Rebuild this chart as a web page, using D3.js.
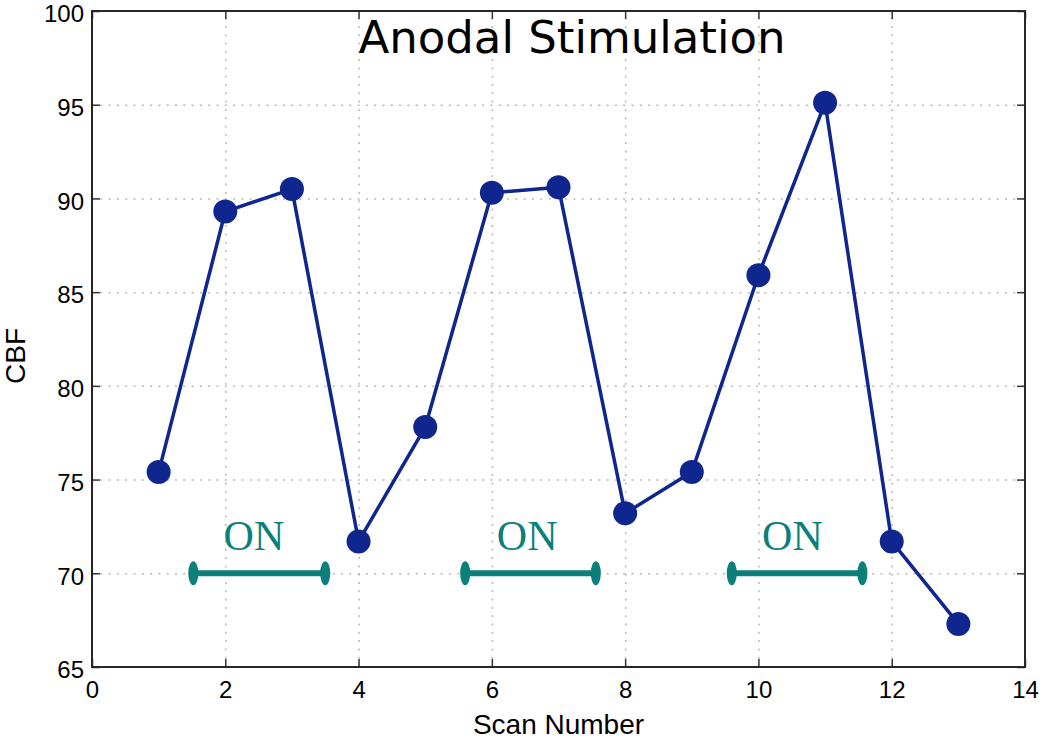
<!DOCTYPE html>
<html>
<head>
  <meta charset="utf-8">
  <script src="https://d3js.org/d3.v7.min.js"></script>
  <style>
    body { margin: 0; background: #fff; }
    .grid line { stroke: #b8b8b8; stroke-width: 1.5; stroke-dasharray: 2, 6.3; }
    .grid .domain { stroke: none; }
    .axis text { font-family: "Liberation Sans", Arial, sans-serif; font-size: 24px; fill: #000; }
    .axis line { stroke: #333; stroke-width: 1.5; }
    .axis .domain { stroke: none; }
  </style>
</head>
<body>
  <svg id="chart" width="1050" height="741"></svg>

  <script>
    // data
    const scans = [1, 2, 3, 4, 5, 6, 7, 8, 9, 10, 11, 12, 13];
    const cbf = [75.4, 89.3, 90.5, 71.7, 77.8, 90.3, 90.6, 73.2, 75.4, 85.9, 95.1, 71.7, 67.3];

    // stimulation periods
    const onStart = [1.52, 5.6, 9.6];
    const onEnd = [3.5, 7.56, 11.56];
    const onLevel = 70;
    const onLabelX = [2.43, 6.53, 10.51];
    const onLabelY = 71.25;

    const xTicks = [0, 2, 4, 6, 8, 10, 12, 14];
    const yTicks = [65, 70, 75, 80, 85, 90, 95, 100];

    const svg = d3.select("svg#chart");
    const margin = { top: 11, right: 25, bottom: 74, left: 92 };
    const width = +svg.attr("width");
    const height = +svg.attr("height");
    const chartWidth = width - margin.left - margin.right;
    const chartHeight = height - margin.top - margin.bottom;

    const xScale = d3.scaleLinear().domain([0, 14]).range([0, chartWidth]);
    const yScale = d3.scaleLinear().domain([65, 100]).range([chartHeight, 0]);

    const chart = svg.append("g")
      .attr("transform", `translate(${margin.left},${margin.top})`);

    // dotted grid
    chart.append("g").attr("class", "grid")
      .attr("transform", `translate(0,${chartHeight})`)
      .call(d3.axisBottom(xScale).tickValues(xTicks.slice(1, -1)).tickSize(-chartHeight).tickFormat(""));
    chart.append("g").attr("class", "grid")
      .call(d3.axisLeft(yScale).tickValues(yTicks.slice(1, -1)).tickSize(-chartWidth).tickFormat(""));

    // axes with inward ticks (matlab style box)
    chart.append("g").attr("class", "axis")
      .attr("transform", `translate(0,${chartHeight})`)
      .call(d3.axisBottom(xScale).tickValues(xTicks).tickSizeInner(-8).tickSizeOuter(0).tickPadding(14));
    chart.append("g").attr("class", "axis")
      .call(d3.axisTop(xScale).tickValues(xTicks).tickSizeInner(-8).tickSizeOuter(0).tickFormat(""));
    chart.append("g").attr("class", "axis")
      .call(d3.axisLeft(yScale).tickValues(yTicks).tickSizeInner(-8).tickSizeOuter(0).tickPadding(8))
      .selectAll("text").attr("dy", "0.45em");
    chart.append("g").attr("class", "axis")
      .attr("transform", `translate(${chartWidth},0)`)
      .call(d3.axisRight(yScale).tickValues(yTicks).tickSizeInner(-8).tickSizeOuter(0).tickFormat(""));

    chart.append("rect")
      .attr("width", chartWidth).attr("height", chartHeight)
      .attr("fill", "none").attr("stroke", "#262626").attr("stroke-width", 2);

    // ON periods
    const teal = "#0b7f79";
    onStart.forEach((s, i) => {
      chart.append("line")
        .attr("x1", xScale(s)).attr("x2", xScale(onEnd[i]))
        .attr("y1", yScale(onLevel)).attr("y2", yScale(onLevel))
        .attr("stroke", teal).attr("stroke-width", 6);
      [s, onEnd[i]].forEach(v => {
        chart.append("ellipse")
          .attr("cx", xScale(v)).attr("cy", yScale(onLevel))
          .attr("rx", 5).attr("ry", 12)
          .attr("fill", teal);
      });
      chart.append("text")
        .attr("x", xScale(onLabelX[i])).attr("y", yScale(onLabelY))
        .attr("text-anchor", "middle")
        .style("font-family", "'Liberation Serif', 'Times New Roman', serif")
        .style("font-size", "42px")
        .attr("fill", teal)
        .text("ON");
    });

    // the CBF series
    const navy = "#0e268e";
    const line = d3.line().x((d, i) => xScale(scans[i])).y(d => yScale(d));
    chart.append("path")
      .datum(cbf)
      .attr("d", line)
      .attr("fill", "none")
      .attr("stroke", navy)
      .attr("stroke-width", 3.5)
      .attr("stroke-linejoin", "round");

    chart.selectAll("circle.pt")
      .data(cbf)
      .join("circle")
      .attr("class", "pt")
      .attr("cx", (d, i) => xScale(scans[i]))
      .attr("cy", d => yScale(d))
      .attr("r", 12)
      .attr("fill", navy);

    // title and labels
    svg.append("text")
      .attr("x", 572).attr("y", 53)
      .attr("text-anchor", "middle")
      .style("font-family", "'DejaVu Sans', sans-serif")
      .style("font-size", "45px")
      .text("Anodal Stimulation");

    svg.append("text")
      .attr("x", margin.left + chartWidth / 2).attr("y", 734)
      .attr("text-anchor", "middle")
      .style("font-family", "'Liberation Sans', Arial, sans-serif")
      .style("font-size", "28px")
      .text("Scan Number");

    svg.append("text")
      .attr("transform", `translate(25,356) rotate(-90)`)
      .attr("text-anchor", "middle")
      .style("font-family", "'Liberation Sans', Arial, sans-serif")
      .style("font-size", "28px")
      .text("CBF");
  </script>
</body>
</html>
